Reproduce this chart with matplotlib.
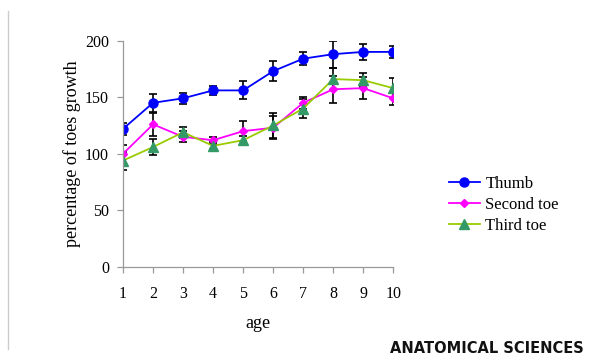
import matplotlib
matplotlib.use("Agg")
import matplotlib.pyplot as plt
from matplotlib.lines import Line2D

age = [1, 2, 3, 4, 5, 6, 7, 8, 9, 10]
thumb = [122, 145, 149, 156, 156, 173, 184, 188, 190, 190]
thumb_err = [5, 8, 5, 4, 8, 9, 6, 12, 7, 5]
second = [100, 126, 115, 112, 120, 123, 145, 157, 158, 149]
second_err = [8, 10, 5, 3, 9, 10, 5, 12, 10, 6]
third = [94, 106, 119, 107, 112, 125, 140, 166, 165, 158]
third_err = [8, 7, 5, 3, 4, 11, 8, 10, 6, 9]
yticks = [0, 50, 100, 150, 200]

plt.rcParams['font.family'] = ['Liberation Serif', 'DejaVu Serif']

fig = plt.figure(figsize=(5.9, 3.56), dpi=100)
ax = fig.add_axes([0.2085, 0.25, 0.458, 0.636])

ekw = dict(ecolor='black', elinewidth=1.2, capsize=3, capthick=1.2, zorder=2)
ax.errorbar(age, thumb, yerr=thumb_err, color='#0000FF', marker='o', markersize=6.5,
            lw=1.3, label='Thumb', **ekw)
ax.errorbar(age, second, yerr=second_err, color='#FF00FF', marker='D', markersize=4.5,
            lw=1.3, label='Second toe', **ekw)
ax.errorbar(age, third, yerr=third_err, color='#99CC00', marker='^', markersize=6.5,
            markerfacecolor='#339966', markeredgecolor='#339966',
            lw=1.3, label='Third toe', **ekw)

ax.set_xlim(1, 10)
ax.set_ylim(0, 200)
ax.set_xticks(age)
ax.set_yticks(yticks)
for s in ['top', 'right']:
    ax.spines[s].set_visible(False)
for s in ['left', 'bottom']:
    ax.spines[s].set_color('#999999')
    ax.spines[s].set_linewidth(0.9)
ax.tick_params(axis='both', colors='#999999', labelcolor='black', labelsize=11.5,
               length=4, width=0.9)
ax.tick_params(axis='x', pad=10)
ax.tick_params(axis='y', pad=6)
ax.set_xlabel('age', fontsize=13, labelpad=9)
ax.set_ylabel('percentage of toes growth', fontsize=13, labelpad=3)

handles = [
    Line2D([], [], color='#0000FF', marker='o', markersize=6.5, lw=1.3),
    Line2D([], [], color='#FF00FF', marker='D', markersize=4.5, lw=1.3),
    Line2D([], [], color='#99CC00', marker='^', markersize=6.5, lw=1.3,
           markerfacecolor='#339966', markeredgecolor='#339966'),
]
fig.legend(handles, ['Thumb', 'Second toe', 'Third toe'], loc='center left',
           bbox_to_anchor=(0.735, 0.425), frameon=False, fontsize=12,
           handlelength=1.9, handletextpad=0.3, labelspacing=0.3)

fig.add_artist(Line2D([0.0135, 0.0135], [0.02, 0.97], color='#CCCCCC', lw=1.0))

fig.text(0.99, 0.0, 'ANATOMICAL SCIENCES', ha='right', va='bottom',
         fontsize=10.5, fontweight='bold', family='DejaVu Sans', color='#111111')

fig.savefig('out.png', dpi=100, facecolor='white')
